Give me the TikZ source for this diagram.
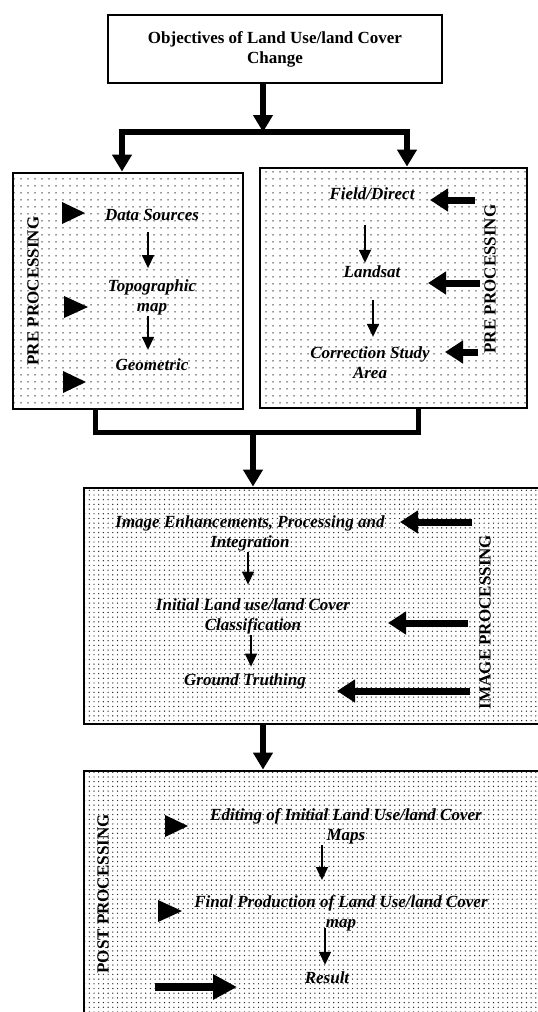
\documentclass[tikz,border=0pt]{standalone}
\usepackage{fontspec}
\setmainfont{Liberation Serif}
\usetikzlibrary{arrows.meta,patterns.meta}
\begin{document}
\begin{tikzpicture}[x=1pt,y=-1pt,
 box/.style={draw, line width=2.8pt},
 sparse/.style={pattern={Dots[distance=7pt,radius=0.75pt]}, pattern color=black!85},
 dense/.style={pattern={Dots[distance=4.7pt,radius=0.7pt]}, pattern color=black!85},
 item/.style={font=\fontsize{17}{20}\selectfont\bfseries\itshape, align=center, inner sep=1pt},
 side/.style={font=\fontsize{17}{20}\selectfont\bfseries, rotate=90, inner sep=0pt},
 thinarr/.style={line width=1.5pt, -{Triangle[width=12pt,length=13pt]}},
 bigarr/.style={line width=6pt, -{Triangle[width=19pt,length=17pt]}},
 fatarr/.style={line width=7pt, -{Triangle[width=22pt,length=18pt]}},
 link/.style={line width=5pt},
 marker/.style={fill=black},
]
\useasboundingbox (0,0) rectangle (538,1012);
\fill[white] (0,0) rectangle (538,1012);

% boxes
\node[box, fill=white, minimum width=334pt, minimum height=68pt,
      font=\fontsize{17}{20}\selectfont\bfseries, align=center] (top) at (275,49)
      {Objectives of Land Use/land Cover\\Change};
\node[box, sparse, minimum width=230pt, minimum height=236pt] (lbox) at (128,291) {};
\node[box, sparse, minimum width=267pt, minimum height=240pt] (rbox) at (393.5,288) {};
\node[box, dense, minimum width=476pt, minimum height=236pt] (ibox) at (322,606) {};
\node[box, dense, minimum width=476pt, minimum height=268pt] (pbox) at (322,905) {};

% left pre-processing
\node[side] (lpre) at (33,291) {PRE PROCESSING};
\node[item] (ds) at (152,215) {Data Sources};
\node[item] (topo) at (152,297) {Topographic\\map};
\node[item] (geo) at (152,365) {Geometric};
\fill[marker] (62,202) -- (85,213) -- (62,224) -- cycle;
\fill[marker] (64,296) -- (88,307) -- (64,318) -- cycle;
\fill[marker] (63,371) -- (86,382) -- (63,393) -- cycle;
\draw[thinarr, shorten <=10pt, shorten >=10pt] ([xshift=-4pt]ds.south) -- ([xshift=-4pt]ds.south |- topo.north);
\draw[thinarr, shorten >=8pt] ([xshift=-4pt]topo.south) -- ([xshift=-4pt]topo.south |- geo.north);

% right pre-processing
\node[side] (rpre) at (490,279) {PRE PROCESSING};
\node[item] (fd) at (372,194) {Field/Direct};
\node[item] (ls) at (372,272) {Landsat};
\node[item] (csa) at (370,363) {Correction Study\\Area};
\draw[thinarr, shorten <=24pt, shorten >=2pt] ([xshift=-7pt]fd.south) -- ([xshift=-7pt]fd.south |- ls.north);
\draw[thinarr, shorten <=21pt, shorten >=9pt] ([xshift=1pt]ls.south) -- ([xshift=1pt]ls.south |- csa.north);
\coordinate (a1) at (475,200);
\coordinate (a2) at (480,283);
\coordinate (a3) at (478,352);
\draw[fatarr] (a1) -- ++(-45,0);
\draw[fatarr] (a2) -- ++(-52,0);
\draw[fatarr] (a3) -- ++(-33,0);

% image processing
\node[side] (img) at (485,622) {IMAGE PROCESSING};
\node[item] (iep) at (250,533.5) {Image Enhancements, Processing and\\Integration};
\node[item] (ilc) at (253,616.5) {Initial Land use/land Cover\\Classification};
\node[item] (gt) at (245,681.5) {Ground Truthing};
\draw[thinarr, shorten >=13pt] ([xshift=-2pt]iep.south) -- ([xshift=-2pt]iep.south |- ilc.north);
\draw[thinarr, shorten >=6pt] ([xshift=-2pt]ilc.south) -- ([xshift=-2pt]ilc.south |- gt.north);
\coordinate (b1) at (472,522);
\coordinate (b2) at (468,623);
\coordinate (b3) at (470,691);
\draw[fatarr] (b1) -- ++(-72,0);
\draw[fatarr] (b2) -- ++(-80,0);
\draw[fatarr] (b3) -- ++(-133,0);

% post processing
\node[side] (post) at (103,894) {POST PROCESSING};
\node[item] (ed) at (346,826) {Editing of Initial Land Use/land Cover\\Maps};
\node[item] (fpl) at (341,913) {Final Production of Land Use/land Cover\\map};
\node[item] (res) at (327,978) {Result};
\fill[marker] (165,815) -- (188,826) -- (165,837) -- cycle;
\fill[marker] (158,900) -- (182,911) -- (158,922) -- cycle;
\draw[thinarr, shorten >=14pt] ([xshift=-24pt]ed.south) -- ([xshift=-24pt]ed.south |- fpl.north);
\draw[thinarr, shorten <=-4pt, shorten >=6pt] ([xshift=-16pt]fpl.south) -- ([xshift=-16pt]fpl.south |- res.north);
\coordinate (c1) at (155,987);
\draw[line width=8pt, -{Triangle[width=24pt,length=24pt]}] (c1) -- ++(82,0);

% connectors
\coordinate (bl) at (122,132);
\coordinate (br) at (407,132);
\draw[bigarr] ([xshift=-12pt]top.south) -- ([xshift=-12pt]top.south |- bl);
\draw[line width=6pt, line join=miter,
      {Triangle[width=19pt,length=17pt]}-{Triangle[width=19pt,length=17pt]}]
      (bl |- lbox.north) -- (bl) -- (br) -- (br |- rbox.north);
\coordinate (jl) at (95,432);
\coordinate (jr) at (418,432);
\coordinate (jm) at (253,432);
\draw[link, line join=miter] (lbox.south -| jl) -- (jl) -- (jr) -- (rbox.south -| jr);
\draw[bigarr] (jm) -- (jm |- ibox.north);
\coordinate (im) at (263,724);
\draw[bigarr] (ibox.south -| im) -- (im |- pbox.north);
\end{tikzpicture}
\end{document}
